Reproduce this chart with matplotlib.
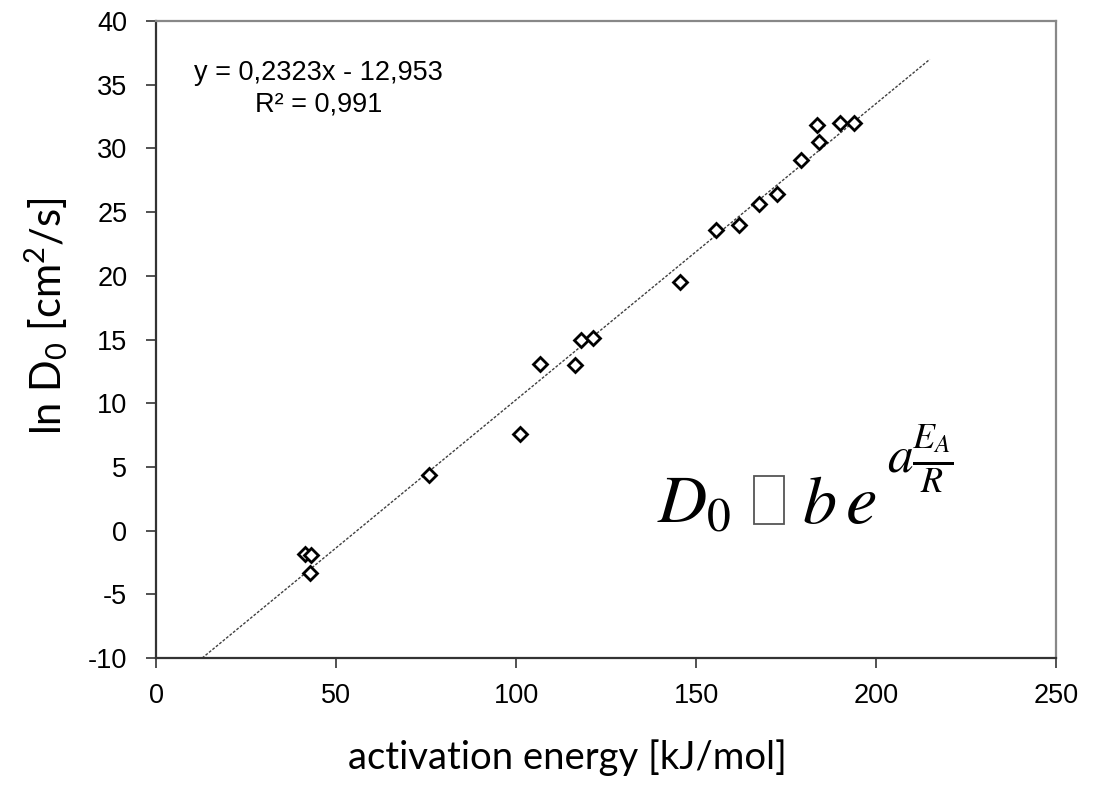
import matplotlib
matplotlib.use("Agg")
import matplotlib.pyplot as plt
import numpy as np

# activation energy [kJ/mol] and ln D0
energy = [41.3, 43.1, 42.7, 75.8, 101.1, 106.6, 116.3, 118.0, 121.3, 145.5,
          155.5, 161.9, 167.5, 172.4, 179.1, 183.7, 184.3, 190.0, 193.9]
ln_d0 = [-1.8, -1.9, -3.3, 4.4, 7.6, 13.1, 13.0, 15.0, 15.1, 19.5,
         23.6, 24.0, 25.6, 26.4, 29.1, 31.8, 30.5, 32.0, 32.0]

slope = 0.2323
intercept = -12.953
fit_range = [12.7, 215.0]

x_ticks = [0, 50, 100, 150, 200, 250]
y_ticks = [-10, -5, 0, 5, 10, 15, 20, 25, 30, 35, 40]

plt.rcParams['mathtext.fontset'] = 'custom'
plt.rcParams['mathtext.rm'] = 'Lato'
plt.rcParams['mathtext.it'] = 'Lato:italic'
plt.rcParams['axes.unicode_minus'] = False

fig = plt.figure(figsize=(11.05, 7.89), dpi=100)
ax = fig.add_axes([0.1416, 0.166, 0.8138, 0.8074])

fit_x = np.array(fit_range)
ax.plot(fit_x, slope * fit_x + intercept, color='#404040', linestyle=(0, (2, 1.2)),
        linewidth=1.0, zorder=2)
ax.plot(energy, ln_d0, linestyle='none', marker='D', markersize=7.5,
        markerfacecolor='white', markeredgecolor='black', markeredgewidth=2.0, zorder=3)

ax.set_xlim(0, 250)
ax.set_ylim(-10, 40)
ax.set_xticks(x_ticks)
ax.set_yticks(y_ticks)
ax.tick_params(direction='out', length=7, width=1.2, color='#333333',
               labelsize=19.5, labelfontfamily='Liberation Sans')
ax.tick_params(axis='x', pad=11)
ax.tick_params(axis='y', pad=14)

for side in ['left', 'bottom']:
    ax.spines[side].set_color('#333333')
    ax.spines[side].set_linewidth(1.6)
for side in ['top', 'right']:
    ax.spines[side].set_color('#888888')
    ax.spines[side].set_linewidth(1.6)

ax.set_xlabel('activation energy [kJ/mol]', family='Lato', fontsize=27.5)
ax.xaxis.set_label_coords(0.4565, -0.127)
ax.set_ylabel(r'ln D$_0$ [cm$^2$/s]', family='Lato', fontsize=30)
ax.yaxis.set_label_coords(-0.096, 0.537)

ax.text(45, 36.9, 'y = 0,2323x - 12,953\nR² = 0,991', family='Liberation Sans',
        fontsize=19.5, ha='center', va='top', multialignment='center', linespacing=1.25)

# formula D0 [] b e^(a EA/R), placed piece by piece
ax.text(139.1, 0.6, r'$D_0$', math_fontfamily='stix', fontsize=49, ha='left', va='baseline')
ax.text(166.0, 0.52, '\u2002\u200a', family='DejaVu Sans', fontsize=36, ha='left', va='bottom',
        bbox=dict(boxstyle='square,pad=0', facecolor='none', edgecolor='#555555', linewidth=1.3))
ax.text(179.6, 0.6, r'$b$', math_fontfamily='stix', fontsize=49, ha='left', va='baseline')
ax.text(191.3, 0.6, r'$e$', math_fontfamily='stix', fontsize=51, ha='left', va='baseline')
ax.text(203.2, 4.6, r'$a\frac{E_A}{R}$', math_fontfamily='stix', fontsize=37,
        ha='left', va='baseline')

fig.savefig('out.png', dpi=100)
